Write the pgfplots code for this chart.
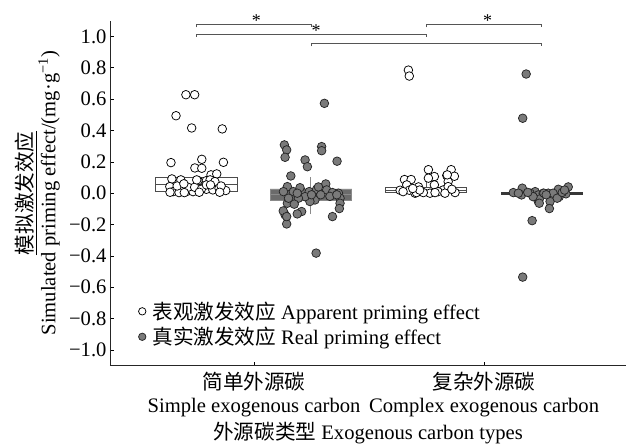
\documentclass[border=0pt]{standalone}
\usepackage{pgfplots}
\pgfplotsset{compat=1.18}
\usepackage{fontspec}
\setmainfont{Liberation Serif}
\newfontfamily\cjk{Noto Sans CJK SC}
\definecolor{realgray}{HTML}{7A7A7A}
\definecolor{boxdark}{HTML}{6B6B6B}
\definecolor{boxedge}{HTML}{8A8A8A}
\definecolor{bracket}{HTML}{555555}
\newcommand{\fs}{\fontsize{20.6bp}{22.5bp}\selectfont}
\begin{document}
\begin{tikzpicture}
\begin{axis}[
  width=516bp, height=345bp, scale only axis,
  xmin=0.374, xmax=2.617, ymin=-1.1, ymax=1.1,
  axis lines=left,
  axis line style={-, line width=0.8pt, black!85},
  clip=false,
  xtick={1,2},
  xticklabels={{{\cjk 简单外源碳}\\Simple exogenous carbon},{{\cjk 复杂外源碳}\\Complex exogenous carbon}},
  x tick label style={align=center, font=\fs, yshift=-3bp},
  ytick={-1,-0.8,-0.6,-0.4,-0.2,0,0.2,0.4,0.6,0.8,1},
  yticklabels={−1.0,−0.8,−0.6,−0.4,−0.2,0.0,0.2,0.4,0.6,0.8,1.0},
  y tick label style={font=\fs},
  tick align=inside, major tick length=4bp,
  tick style={black, line width=0.6pt},
  xlabel={{\cjk 外源碳类型} Exogenous carbon types},
  xlabel style={at={(axis description cs:0.5,-0.195)}, anchor=center, font=\fs},
  ylabel={\underline{\cjk 模拟激发效应}\\Simulated priming effect/(mg·g\textsuperscript{−1})},
  ylabel style={at={(axis description cs:-0.1405,0.5)}, anchor=center, rotate=0, align=center, font=\fs},
  legend style={at={(axis description cs:0.048,0.19)}, anchor=north west, draw=none, fill=none,
    font=\fs, row sep=3.5bp, inner sep=0pt, nodes={inner sep=1.5bp}},
  legend cell align=left,
  legend image code/.code={\path (0cm,0cm) (0.55cm,0cm); \draw[#1, mark size=3.7bp] plot coordinates {(0.25cm,0cm)};},
  legend style={/tikz/every even column/.append style={column sep=0bp}},
]
% whiskers
\addplot[forget plot, boxedge, line width=0.9pt] coordinates {(1.247,-0.134) (1.247,0.106)};
\addplot[forget plot, black!65, line width=0.8pt] coordinates {(1.75,0.038) (1.75,0.13)};
% boxes
\addplot[forget plot, draw=black!70, fill=white, line width=0.8pt]
  coordinates {(0.5715,0.010) (0.9285,0.010) (0.9285,0.099) (0.5715,0.099) (0.5715,0.010)};
\addplot[forget plot, black!70, line width=0.8pt] coordinates {(0.5715,0.057) (0.9285,0.057)};
\addplot[forget plot, draw=boxedge, fill=boxdark, line width=0.8pt]
  coordinates {(1.0696,-0.043) (1.425,-0.043) (1.425,0.027) (1.0696,0.027) (1.0696,-0.043)};
\addplot[forget plot, boxedge, line width=0.8pt] coordinates {(1.0696,-0.006) (1.425,-0.006)};
\addplot[forget plot, draw=black!70, fill=white, line width=0.8pt]
  coordinates {(1.5726,0.004) (1.9248,0.004) (1.9248,0.038) (1.5726,0.038) (1.5726,0.004)};
\addplot[forget plot, black!70, line width=0.8pt] coordinates {(1.5726,0.02) (1.9248,0.02)};
\addplot[forget plot, draw=black!78, fill=black!78, line width=0.6pt]
  coordinates {(2.074,-0.010) (2.426,-0.010) (2.426,0.007) (2.074,0.007) (2.074,-0.010)};
% brackets
\addplot[forget plot, bracket, line width=0.8pt] coordinates {(0.75,1.058) (0.75,1.076) (1.25,1.076) (1.25,1.058)};
\addplot[forget plot, bracket, line width=0.8pt] coordinates {(0.75,0.997) (0.75,1.015) (1.75,1.015) (1.75,0.997)};
\addplot[forget plot, bracket, line width=0.8pt] coordinates {(1.75,1.058) (1.75,1.076) (2.25,1.076) (2.25,1.058)};
\addplot[forget plot, bracket, line width=0.8pt] coordinates {(1.25,0.937) (1.25,0.955) (2.25,0.955) (2.25,0.937)};
% apparent priming effect
\addplot[only marks, mark=*, mark size=4.3bp, mark options={fill=white, draw=black, line width=0.75pt}]
coordinates {
(0.704,0.628) (0.742,0.628) (0.661,0.494) (0.729,0.416) (0.862,0.41)
(0.639,0.195) (0.867,0.197) (0.773,0.216) (0.743,0.161) (0.773,0.159)
(0.643,0.091) (0.682,0.085) (0.634,0.042) (0.648,0.01) (0.674,0.004)
(0.706,0.01) (0.735,0.01) (0.757,0.08) (0.793,0.08) (0.813,0.117)
(0.838,0.123) (0.809,0.085) (0.830,0.074) (0.793,0.025) (0.821,0.021)
(0.848,0.032) (0.877,0.017) (0.713,0.038) (0.742,0.038) (0.771,0.025)
(0.666,0.046) (0.793,0.053) (0.857,0.046) (0.811,0.053) (0.635,0.006)
(0.697,0.004) (0.762,0.006) (0.851,0.006) (0.751,0.085) (0.695,0.06)
(1.671,0.785) (1.675,0.747) (1.758,0.150) (1.784,0.106) (1.857,0.150)
(1.871,0.108) (1.838,0.113) (1.844,0.074) (1.654,0.087) (1.683,0.087)
(1.664,0.053) (1.715,0.040) (1.635,0.019) (1.675,0.019) (1.784,0.053)
(1.765,0.0) (1.823,0.021) (1.874,0.004) (1.736,0.004) (1.70,0.0)
(1.80,0.01) (1.758,0.096) (1.844,0.042) (1.648,0.01) (1.787,0.004)
(1.706,0.004) (1.84,0.117) (1.83,0.0) (1.72,0.02) (1.86,0.025) (1.69,0.03)
};
\addlegendentry{{\cjk 表观激发效应} Apparent priming effect}
% real priming effect
\addplot[only marks, mark=*, mark size=4.3bp, mark options={fill=realgray, draw=black!85, line width=0.75pt}]
coordinates {
(1.306,0.573) (1.132,0.308) (1.142,0.276) (1.135,0.229) (1.294,0.297)
(1.294,0.271) (1.222,0.212) (1.232,0.169) (1.361,0.204) (1.160,0.11)
(1.145,0.042) (1.128,0.01) (1.171,0.01) (1.207,0.01) (1.24,0.01)
(1.272,0.025) (1.312,0.059) (1.316,0.021) (1.341,0.004) (1.367,0.0)
(1.374,-0.032) (1.374,-0.064) (1.371,-0.098) (1.341,-0.149) (1.265,-0.043)
(1.243,-0.053) (1.222,-0.022) (1.193,-0.032) (1.145,-0.064) (1.175,-0.07)
(1.207,-0.117) (1.188,-0.132) (1.135,-0.138) (1.142,-0.196) (1.270,-0.382)
(1.150,-0.032) (1.127,-0.113) (1.142,-0.149) (1.28,0.04) (1.25,-0.01)
(1.29,-0.01) (1.33,-0.02) (1.36,-0.01) (1.20,0.035) (1.188,0.0)
(2.183,0.76) (2.168,0.478) (2.209,-0.175) (2.168,-0.535) (2.127,0.004)
(2.166,0.032) (2.163,-0.011) (2.222,0.01) (2.236,-0.011) (2.236,-0.053)
(2.257,0.0) (2.279,0.0) (2.287,-0.053) (2.284,-0.098) (2.323,0.025)
(2.327,-0.022) (2.356,-0.004) (2.366,0.040) (2.20,0.0) (2.149,0.0)
(2.24,-0.038) (2.24,-0.064) (2.26,0.0) (2.30,0.0) (2.318,-0.032)
(2.213,-0.022) (2.34,0.005) (2.27,-0.01) (2.19,0.005) (2.35,0.02)
};
\addlegendentry{{\cjk 真实激发效应} Real priming effect}
% significance stars
\node[anchor=base, font=\fontsize{18bp}{18bp}\selectfont] at (axis cs:1.01,1.066) {*};
\node[anchor=base, font=\fontsize{18bp}{18bp}\selectfont] at (axis cs:1.27,1.000) {*};
\node[anchor=base, font=\fontsize{18bp}{18bp}\selectfont] at (axis cs:2.015,1.066) {*};
\end{axis}
\pgfresetboundingbox
\path[use as bounding box] ([xshift=-110bp, yshift=-79.3bp]current axis.south west) rectangle ++(626bp,445bp);
\end{tikzpicture}
\end{document}
